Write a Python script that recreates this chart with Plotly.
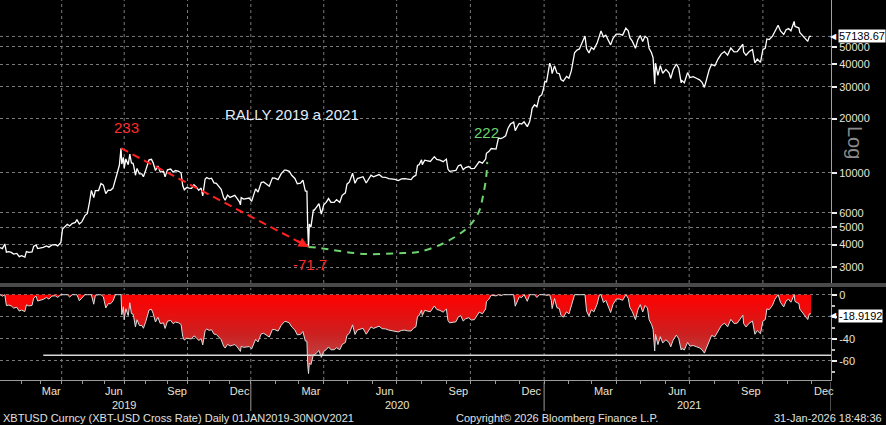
import numpy as np
import pandas as pd
import plotly.graph_objects as go

# ---------------- data ----------------
dates = [
    "2019-01-01", "2019-01-04", "2019-01-08", "2019-01-10", "2019-01-14", "2019-01-17", "2019-01-21",
    "2019-01-25", "2019-01-29", "2019-02-01", "2019-02-06", "2019-02-08", "2019-02-12", "2019-02-16",
    "2019-02-19", "2019-02-22", "2019-02-25", "2019-03-01", "2019-03-05", "2019-03-09", "2019-03-13",
    "2019-03-18", "2019-03-22", "2019-03-26", "2019-03-30", "2019-04-02", "2019-04-05", "2019-04-09",
    "2019-04-12", "2019-04-16", "2019-04-20", "2019-04-23", "2019-04-26", "2019-04-30", "2019-05-04",
    "2019-05-08", "2019-05-11", "2019-05-14", "2019-05-17", "2019-05-20", "2019-05-24", "2019-05-28",
    "2019-05-31", "2019-06-04", "2019-06-07", "2019-06-11", "2019-06-14", "2019-06-18", "2019-06-21",
    "2019-06-24", "2019-06-26", "2019-06-27", "2019-06-29", "2019-07-01", "2019-07-03", "2019-07-06",
    "2019-07-09", "2019-07-11", "2019-07-13", "2019-07-15", "2019-07-17", "2019-07-19", "2019-07-23",
    "2019-07-26", "2019-07-29", "2019-08-01", "2019-08-06", "2019-08-09", "2019-08-12", "2019-08-15",
    "2019-08-19", "2019-08-22", "2019-08-27", "2019-08-29", "2019-09-02", "2019-09-06", "2019-09-10",
    "2019-09-13", "2019-09-18", "2019-09-21", "2019-09-24", "2019-09-26", "2019-09-30", "2019-10-03",
    "2019-10-07", "2019-10-10", "2019-10-14", "2019-10-17", "2019-10-21", "2019-10-23", "2019-10-25",
    "2019-10-26", "2019-10-29", "2019-11-01", "2019-11-05", "2019-11-08", "2019-11-12", "2019-11-15",
    "2019-11-19", "2019-11-22", "2019-11-25", "2019-11-28", "2019-12-02", "2019-12-05", "2019-12-09",
    "2019-12-12", "2019-12-16", "2019-12-17", "2019-12-18", "2019-12-21", "2019-12-26", "2019-12-30",
    "2020-01-02", "2020-01-04", "2020-01-07", "2020-01-10", "2020-01-14", "2020-01-17", "2020-01-21",
    "2020-01-24", "2020-01-28", "2020-01-31", "2020-02-04", "2020-02-08", "2020-02-12", "2020-02-14",
    "2020-02-18", "2020-02-21", "2020-02-25", "2020-02-28", "2020-03-03", "2020-03-06", "2020-03-09",
    "2020-03-11", "2020-03-12", "2020-03-13", "2020-03-14", "2020-03-16", "2020-03-19", "2020-03-20",
    "2020-03-23", "2020-03-26", "2020-03-29", "2020-04-01", "2020-04-04", "2020-04-07", "2020-04-10",
    "2020-04-14", "2020-04-17", "2020-04-21", "2020-04-24", "2020-04-28", "2020-04-30", "2020-05-03",
    "2020-05-07", "2020-05-10", "2020-05-13", "2020-05-16", "2020-05-20", "2020-05-24", "2020-05-27",
    "2020-05-30", "2020-06-02", "2020-06-05", "2020-06-09", "2020-06-13", "2020-06-17", "2020-06-21",
    "2020-06-25", "2020-06-29", "2020-07-03", "2020-07-07", "2020-07-11", "2020-07-15", "2020-07-19",
    "2020-07-22", "2020-07-25", "2020-07-27", "2020-07-29", "2020-08-01", "2020-08-02", "2020-08-05",
    "2020-08-09", "2020-08-12", "2020-08-17", "2020-08-20", "2020-08-24", "2020-08-28", "2020-09-01",
    "2020-09-03", "2020-09-05", "2020-09-09", "2020-09-13", "2020-09-16", "2020-09-19", "2020-09-22",
    "2020-09-25", "2020-09-29", "2020-10-02", "2020-10-06", "2020-10-09", "2020-10-12", "2020-10-16",
    "2020-10-20", "2020-10-21", "2020-10-24", "2020-10-27", "2020-10-30", "2020-11-02", "2020-11-05",
    "2020-11-08", "2020-11-11", "2020-11-14", "2020-11-17", "2020-11-20", "2020-11-24", "2020-11-26",
    "2020-11-29", "2020-12-01", "2020-12-04", "2020-12-07", "2020-12-11", "2020-12-14", "2020-12-16",
    "2020-12-17", "2020-12-20", "2020-12-23", "2020-12-26", "2020-12-29", "2020-12-31",
    "2021-01-02", "2021-01-04", "2021-01-06", "2021-01-08", "2021-01-10", "2021-01-11", "2021-01-14",
    "2021-01-17", "2021-01-20", "2021-01-22", "2021-01-25", "2021-01-29", "2021-02-01", "2021-02-04",
    "2021-02-08", "2021-02-11", "2021-02-14", "2021-02-17", "2021-02-21", "2021-02-23", "2021-02-26",
    "2021-03-01", "2021-03-04", "2021-03-08", "2021-03-11", "2021-03-13", "2021-03-16", "2021-03-19",
    "2021-03-22", "2021-03-25", "2021-03-28", "2021-04-01", "2021-04-05", "2021-04-09", "2021-04-13",
    "2021-04-16", "2021-04-18", "2021-04-21", "2021-04-25", "2021-04-28", "2021-05-01", "2021-05-04",
    "2021-05-07", "2021-05-10", "2021-05-12", "2021-05-15", "2021-05-17", "2021-05-19", "2021-05-20",
    "2021-05-23", "2021-05-26", "2021-05-29", "2021-06-02", "2021-06-06", "2021-06-08", "2021-06-11",
    "2021-06-15", "2021-06-18", "2021-06-21", "2021-06-22", "2021-06-25", "2021-06-29", "2021-07-02",
    "2021-07-06", "2021-07-10", "2021-07-14", "2021-07-17", "2021-07-20", "2021-07-22", "2021-07-26",
    "2021-07-29", "2021-08-02", "2021-08-06", "2021-08-10", "2021-08-14", "2021-08-18", "2021-08-22",
    "2021-08-26", "2021-08-30", "2021-09-03", "2021-09-06", "2021-09-07", "2021-09-10", "2021-09-14",
    "2021-09-18", "2021-09-21", "2021-09-24", "2021-09-28", "2021-10-01", "2021-10-04", "2021-10-06",
    "2021-10-09", "2021-10-13", "2021-10-16", "2021-10-20", "2021-10-23", "2021-10-27", "2021-10-30",
    "2021-11-02", "2021-11-05", "2021-11-09", "2021-11-10", "2021-11-12", "2021-11-15", "2021-11-16",
    "2021-11-19", "2021-11-22", "2021-11-26", "2021-11-28", "2021-11-30",
]
prices = [
    3850, 3800, 4030, 3630, 3650, 3620, 3540,
    3570, 3430, 3470, 3410, 3660, 3620, 3640,
    3910, 3980, 3800, 3820, 3860, 3930, 3870,
    3980, 3990, 3930, 4110, 4880, 5040, 5180,
    5070, 5230, 5310, 5500, 5200, 5340, 5790,
    5950, 7000, 7990, 7300, 7960, 7980, 8720,
    8550, 7670, 8010, 8000, 8230, 9080, 10240,
    11050, 13700, 11200, 12200, 10600, 11950, 11100,
    12700, 11350, 11300, 10850, 9700, 10580, 9860,
    9870, 9520, 10400, 11800, 11880, 11400, 10300,
    10900, 10100, 10200, 9500, 10400, 10500, 10100,
    10300, 10200, 9980, 8500, 8050, 8300, 8220,
    8200, 8580, 8350, 8000, 8230, 7450, 8650,
    9250, 9430, 9260, 9340, 8800, 8750, 8460,
    8100, 7300, 7060, 7530, 7310, 7400, 7500,
    7200, 6880, 6640, 7280, 7150, 7200, 7250,
    6950, 7350, 8150, 7820, 8830, 8900, 8650,
    8430, 9380, 9350, 9170, 9900, 10350, 10360,
    10190, 9690, 9310, 8700, 8760, 9120, 7940,
    7900, 4970, 3880, 5200, 5000, 6200, 6200,
    6450, 6750, 5900, 6650, 6850, 7200, 6850,
    6850, 7100, 6850, 7500, 7750, 8650, 8900,
    9950, 8750, 9300, 9380, 9520, 8780, 9200,
    9700, 9500, 9650, 9780, 9470, 9450, 9300,
    9250, 9190, 9060, 9250, 9290, 9200, 9180,
    9530, 9700, 11000, 11100, 11800, 11100, 11750,
    11680, 11570, 12300, 11870, 11750, 11530, 11920,
    10500, 10200, 10240, 10330, 10950, 11080, 10420,
    10700, 10840, 10550, 10600, 11060, 11540, 11320,
    11920, 12830, 13130, 13650, 13560, 13550, 15600,
    15480, 15700, 16050, 17700, 18650, 19150, 17150,
    18190, 18800, 18650, 19200, 18050, 19270, 21300,
    22800, 23850, 23250, 26450, 27050, 29000,
    32200, 31970, 36800, 40600, 38350, 35500, 39200,
    35800, 35500, 32950, 32300, 34300, 33500, 36900,
    46400, 48000, 48700, 52100, 57400, 48800, 46300,
    49600, 48400, 52300, 57300, 61200, 56800, 58100,
    54500, 51300, 55800, 58800, 58800, 58100, 63500,
    61400, 56200, 53800, 49100, 54800, 57800, 53500,
    57300, 55800, 49100, 46400, 43500, 31000, 40600,
    34700, 39300, 35700, 37500, 35800, 33400, 37300,
    40200, 38100, 31600, 32500, 31600, 36000, 33800,
    34200, 33500, 32800, 31800, 29800, 32100, 37300,
    40000, 39200, 42800, 45600, 47100, 45000, 49300,
    46900, 47100, 50000, 51700, 46800, 44900, 47100,
    48300, 40700, 42800, 41000, 48200, 49200, 55300,
    54900, 57400, 60900, 65900, 61300, 58600, 62200,
    63200, 61400, 69200, 65000, 64200, 63600, 60200,
    58100, 56300, 53600, 57200, 57138.67,
]

last_price = 57138.67
last_drawdown = -18.9192

price_ticks = [3000, 4000, 5000, 6000, 10000, 20000, 30000, 40000, 50000]
drawdown_ticks = [0, -20, -40, -60]
drawdown_ticktext = ["0", "", "-40", "-60"]   # -20 is hidden under the last-value box

month_label_dates = ["2019-03-16", "2019-06-15", "2019-09-16", "2019-12-16",
                     "2020-03-16", "2020-06-16", "2020-09-16", "2020-12-16",
                     "2021-03-16", "2021-06-16", "2021-09-16", "2021-12-16"]
month_labels = ["Mar", "Jun", "Sep", "Dec"] * 3
year_label_dates = ["2019-07-01", "2020-07-01", "2021-07-01"]
year_labels = ["2019", "2020", "2021"]
year_breaks = ["2020-01-01", "2021-01-01", "2021-12-25"]

x_start, x_end = "2019-01-01", "2021-12-25"

peak_date, peak_price = "2019-06-26", 13700
low_date, low_price = "2020-03-13", 3880
rally_date, rally_price = "2020-10-21", 12830
arc_dates = ["2020-03-13", "2020-03-27", "2020-05-20", "2020-07-09", "2020-07-28",
             "2020-08-29", "2020-09-27", "2020-10-11", "2020-10-17", "2020-10-21", "2020-10-22"]
arc_prices = [3880, 3830, 3550, 3590, 3640, 4080, 4950, 6000, 7540, 9750, 11500]

support_level = -55
support_start = "2019-03-05"

# ---------------- derived ----------------
p = np.array(prices, dtype=float)
drawdown = (p / np.maximum.accumulate(p) - 1.0) * 100.0

# the 2019 part of this series has no Sunday observations (compressed axis)
sundays_2019 = pd.date_range("2019-01-06", "2019-12-29", freq="7D").strftime("%Y-%m-%d").tolist()
rbreaks = [dict(values=sundays_2019, dvalue=86400000)]

month_starts = []
for d in pd.date_range("2019-02-01", "2021-12-01", freq="MS"):
    if d.year == 2019 and d.dayofweek == 6:
        d = d + pd.Timedelta(days=1)
    month_starts.append(d.strftime("%Y-%m-%d"))
quarter_starts = [d.strftime("%Y-%m-%d") for d in pd.date_range("2019-04-01", "2021-10-01", freq="QS")]

FONT = "Liberation Sans, Arial, sans-serif"
TXT = "#e8e4d6"
GRID = "#7a7a7a"

fig = go.Figure()
fig.add_trace(go.Scatter(x=dates, y=prices, mode="lines", line=dict(color="white", width=1.3),
                         xaxis="x", yaxis="y", hoverinfo="skip"))
fig.add_trace(go.Scatter(x=[peak_date, low_date], y=[peak_price, low_price], mode="lines",
                         line=dict(color="#ff2020", width=2, dash="8px,5px"),
                         xaxis="x", yaxis="y", hoverinfo="skip"))
fig.add_trace(go.Scatter(x=arc_dates, y=arc_prices, mode="lines",
                         line=dict(color="#6fd36f", width=2, dash="7px,6px", shape="spline", smoothing=1.0),
                         xaxis="x", yaxis="y", hoverinfo="skip"))
fig.add_trace(go.Scatter(x=dates, y=drawdown, mode="lines", fill="tozeroy",
                         fillgradient=dict(type="vertical",
                                           colorscale=[[0, "#b65a5a"], [0.5, "#cc2020"], [1, "#ff0000"]]),
                         line=dict(color="#dcdcdc", width=1), xaxis="x2", yaxis="y2", hoverinfo="skip"))

H_PLOT = 380.0
top_dom = [1 - 283 / H_PLOT, 1]
bot_dom = [0, 1 - 288 / H_PLOT]

xcommon = dict(type="date", range=[x_start, x_end], rangebreaks=rbreaks, showgrid=False,
               zeroline=False)
ycommon = dict(side="right", ticks="outside", ticklen=5, tickwidth=2, tickcolor="#f0f0f0",
               showgrid=True, gridcolor=GRID, griddash="dot", gridwidth=1, zeroline=False,
               showline=True, linecolor="#a0a0a0", linewidth=1,
               tickfont=dict(family=FONT, size=11, color=TXT))

fig.update_layout(
    width=886, height=425, paper_bgcolor="black", plot_bgcolor="black",
    margin=dict(l=0, r=55, t=0, b=45), showlegend=False, hovermode=False,
    xaxis=dict(domain=[0, 1], anchor="y", showticklabels=False, showline=False, ticks="", **xcommon),
    xaxis2=dict(domain=[0, 1], anchor="y2", tickvals=month_label_dates, ticktext=month_labels,
                ticks="", showline=True, linecolor="#9a9a9a", linewidth=1, ticklabelstandoff=1,
                tickfont=dict(family=FONT, size=11, color=TXT),
                minor=dict(tickvals=month_starts, ticks="outside", ticklen=3, tickcolor="#9a9a9a",
                           showgrid=False),
                **xcommon),
    yaxis=dict(domain=top_dom, anchor="x", type="log",
               range=[np.log10(2448), np.log10(91000)],
               tickvals=price_ticks, ticktext=[str(v) for v in price_ticks], **ycommon),
    yaxis2=dict(domain=bot_dom, anchor="x2", range=[-77.5, 6.1],
                tickvals=drawdown_ticks, ticktext=drawdown_ticktext,
                minor=dict(dtick=10, ticks="outside", ticklen=3, tickcolor="#c0c0c0", showgrid=False),
                **ycommon),
)

shapes = []
for q in quarter_starts:
    shapes.append(dict(type="line", xref="x", yref="y domain", x0=q, x1=q, y0=0, y1=1,
                       line=dict(color=GRID, width=1, dash="dot"), layer="below"))
    shapes.append(dict(type="line", xref="x2", yref="y2 domain", x0=q, x1=q, y0=0, y1=1,
                       line=dict(color=GRID, width=1, dash="dot"), layer="below"))
shapes.append(dict(type="line", xref="x domain", yref="y", x0=0, x1=1, y0=last_price, y1=last_price,
                   line=dict(color=GRID, width=1, dash="dot"), layer="below"))
shapes.append(dict(type="rect", xref="paper", yref="paper", x0=0, x1=886 / 831,
                   y0=1 - 287 / H_PLOT, y1=1 - 283 / H_PLOT, fillcolor="#4a4a4a", line=dict(width=0)))
shapes.append(dict(type="line", xref="x2", yref="y2", x0=support_start, x1=x_end,
                   y0=support_level, y1=support_level, line=dict(color="#d8d8d8", width=1.5)))
for yb in year_breaks:
    shapes.append(dict(type="line", xref="x2", yref="paper", x0=yb, x1=yb,
                       y0=-2 / H_PLOT, y1=-31 / H_PLOT, line=dict(color="#9a9a9a", width=1)))
fig.update_layout(shapes=shapes)

ann = []
ann.append(dict(text="RALLY 2019 a 2021", xref="paper", yref="paper", x=292 / 831, y=1 - 104 / H_PLOT,
                showarrow=False, font=dict(family=FONT, size=15, color="#e2ecfa")))
ann.append(dict(text="233", xref="x", yref="y", x=peak_date, y=np.log10(peak_price), xshift=5, yshift=21,
                showarrow=False, font=dict(family=FONT, size=15, color="#ff2a2a")))
ann.append(dict(text="-71.7", xref="x", yref="y", x=low_date, y=np.log10(low_price), xshift=1, yshift=-18,
                showarrow=False, font=dict(family=FONT, size=15, color="#ff2a2a")))
ann.append(dict(text="222", xref="x", yref="y", x=rally_date, y=np.log10(rally_price), xshift=0, yshift=21,
                showarrow=False, font=dict(family=FONT, size=15, color="#6fd36f")))
ann.append(dict(text="", xref="x", yref="y", x=low_date, y=np.log10(low_price), ax=-13, ay=-7,
                showarrow=True, arrowhead=2, arrowsize=1, arrowwidth=2, arrowcolor="#ff2020"))
ann.append(dict(text="Log", xref="paper", yref="paper", x=868 / 831, y=1 - 142 / H_PLOT, textangle=90,
                showarrow=False, font=dict(family=FONT, size=20, color="#8a8a8a")))
# last value boxes
ann.append(dict(text="57138.67", xref="paper", yref="y", x=838 / 831, y=np.log10(last_price),
                xanchor="left", yanchor="middle", showarrow=False, bgcolor="white", borderpad=0,
                font=dict(family=FONT, size=11, color="black")))
ann.append(dict(text="◀", xref="paper", yref="y", x=839 / 831, y=np.log10(last_price),
                xanchor="right", yanchor="middle", showarrow=False,
                font=dict(family="DejaVu Sans", size=8, color="white")))
ann.append(dict(text="-18.9192", xref="paper", yref="y2", x=838 / 831, y=last_drawdown,
                xanchor="left", yanchor="middle", showarrow=False, bgcolor="white", borderpad=0,
                font=dict(family=FONT, size=11, color="black")))
ann.append(dict(text="◀", xref="paper", yref="y2", x=839 / 831, y=last_drawdown,
                xanchor="right", yanchor="middle", showarrow=False,
                font=dict(family="DejaVu Sans", size=8, color="white")))
for d, t in zip(year_label_dates, year_labels):
    ann.append(dict(text=t, xref="x2", yref="paper", x=d, y=-25 / H_PLOT, showarrow=False,
                    yanchor="middle", font=dict(family=FONT, size=11, color=TXT)))
foot_y = -38 / H_PLOT
ann.append(dict(text="XBTUSD Curncy (XBT-USD Cross Rate) Daily 01JAN2019-30NOV2021", xref="paper", yref="paper",
                x=1 / 831, y=foot_y, xanchor="left", yanchor="middle", showarrow=False,
                font=dict(family=FONT, size=11, color="#e0e0e0")))
ann.append(dict(text="Copyright© 2026 Bloomberg Finance L.P.", xref="paper", yref="paper",
                x=557 / 831, y=foot_y, xanchor="center", yanchor="middle", showarrow=False,
                font=dict(family=FONT, size=11, color="#e0e0e0")))
ann.append(dict(text="31-Jan-2026 18:48:36", xref="paper", yref="paper",
                x=884 / 831, y=foot_y, xanchor="right", yanchor="middle", showarrow=False,
                font=dict(family=FONT, size=11, color="#e0e0e0")))
fig.update_layout(annotations=ann)

fig.write_html("out.html")
